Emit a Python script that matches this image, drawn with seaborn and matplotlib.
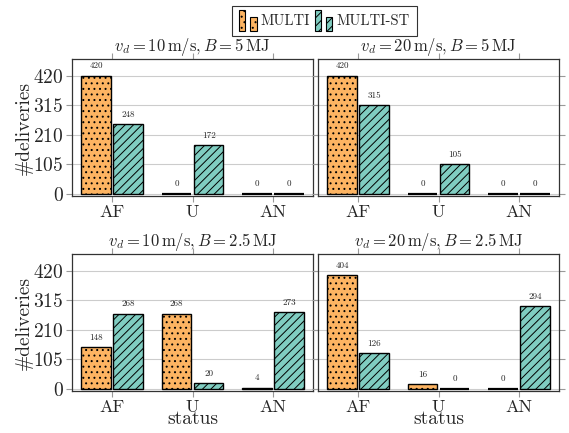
import matplotlib
matplotlib.use('Agg')
import matplotlib.pyplot as plt
import pandas as pd
import seaborn as sns
from matplotlib.patches import Patch, Rectangle
from matplotlib.legend_handler import HandlerBase

# data
status = ['AF', 'U', 'AN']
methods = ['MULTI', 'MULTI-ST']
titles = [r'$v_d = 10\,\mathrm{m/s}, B = 5\,\mathrm{MJ}$',
          r'$v_d = 20\,\mathrm{m/s}, B = 5\,\mathrm{MJ}$',
          r'$v_d = 10\,\mathrm{m/s}, B = 2.5\,\mathrm{MJ}$',
          r'$v_d = 20\,\mathrm{m/s}, B = 2.5\,\mathrm{MJ}$']
multi = [[420, 0, 0], [420, 0, 0], [148, 268, 4], [404, 16, 0]]
multi_st = [[248, 172, 0], [315, 105, 0], [268, 20, 273], [126, 0, 294]]
yticks = [0, 105, 210, 315, 420]

colors = ['#fdb462', '#80cdc1']
hatches = ['...', '////']


class TwoBars(HandlerBase):
    """pgfplots style legend image: two little bars"""

    def create_artists(self, legend, orig_handle, xdescent, ydescent,
                       width, height, fontsize, trans):
        fc = orig_handle.get_facecolor()
        hatch = orig_handle.get_hatch()
        w = width * 0.36
        x0, y0 = -xdescent, -ydescent - height * 0.3
        h = height * 1.55
        r1 = Rectangle((x0, y0), w, h, facecolor=fc, edgecolor='black',
                       hatch=hatch, lw=0.8, transform=trans)
        r2 = Rectangle((x0 + width - w, y0), w, h * 0.7, facecolor=fc,
                       edgecolor='black', hatch=hatch, lw=0.8,
                       transform=trans)
        return [r1, r2]


sns.set_style('whitegrid')
plt.rcParams['font.family'] = ['cmr10', 'DejaVu Serif']
plt.rcParams['mathtext.fontset'] = 'cm'
plt.rcParams['axes.formatter.use_mathtext'] = True
plt.rcParams['hatch.linewidth'] = 0.7

fig = plt.figure(figsize=(5.69, 4.33), dpi=100)

W, H = 569, 433
lefts = [72, 318]
tops = [59, 254]
aw, ah = 241, 137

for i in range(4):
    row, col = divmod(i, 2)
    ax = fig.add_axes([lefts[col] / W, 1 - (tops[row] + ah) / H, aw / W, ah / H])
    df = pd.DataFrame({
        'status': status * 2,
        'deliveries': multi[i] + multi_st[i],
        'method': [methods[0]] * 3 + [methods[1]] * 3,
    })
    sns.barplot(data=df, x='status', y='deliveries', hue='method',
                palette=colors, saturation=1, edgecolor='black',
                linewidth=1.0, gap=0.08, width=0.8, legend=False, ax=ax)
    for cont, hatch in zip(ax.containers, hatches):
        for bar in cont:
            bar.set_hatch(hatch)
            if bar.get_height() == 0:
                bar.set_linewidth(1.6)
        ax.bar_label(cont, fontsize=6.5, padding=4)

    ax.set_xlim(-0.5, 2.5)
    ax.set_ylim(-8, 480)
    ax.set_yticks(yticks)
    ax.grid(axis='y', color='#cccccc', lw=0.8)
    ax.grid(axis='x', visible=False)
    ax.set_axisbelow(True)
    for sp in ax.spines.values():
        sp.set_color('#333333')
        sp.set_linewidth(0.9)
    ax.tick_params(axis='both', which='both', direction='out', length=4,
                   width=0.8, color='#999999', pad=2,
                   bottom=True, top=True, left=True, right=True)
    ax.tick_params(axis='x', labelsize=13)
    ax.tick_params(axis='y', labelsize=14)
    ax.set_title(titles[i], fontsize=12, pad=6)

    if col == 0:
        ax.set_ylabel('#deliveries', fontsize=14, labelpad=0)
    else:
        ax.set_ylabel('')
        ax.set_yticklabels([])
    if row == 1:
        ax.set_xlabel('status', fontsize=14, labelpad=-3)
    else:
        ax.set_xlabel('')

handles = [Patch(facecolor=c, edgecolor='black', hatch=h)
           for c, h in zip(colors, hatches)]
leg = fig.legend(handles, methods, loc='center',
                 bbox_to_anchor=(324.5 / W, 1 - 21 / H), ncol=2,
                 handler_map={Patch: TwoBars()}, frameon=True,
                 fancybox=False, edgecolor='black', fontsize=10.5,
                 handlelength=1.2, handleheight=1.0, handletextpad=0.3,
                 columnspacing=0.3, borderpad=0.5)
leg.get_frame().set_linewidth(0.8)

fig.savefig('out.png', dpi=100)
